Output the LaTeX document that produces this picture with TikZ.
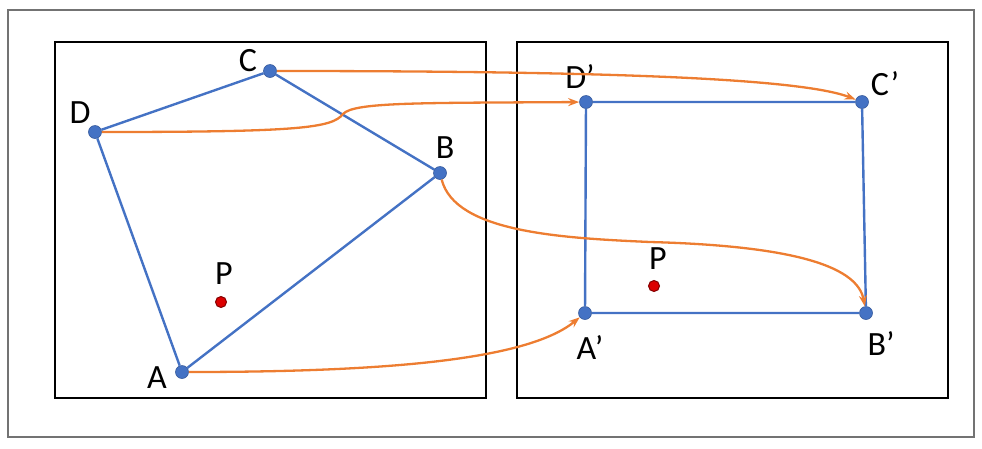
\documentclass[tikz,border=0pt]{standalone}
\usepackage{fontspec}
\setmainfont{Carlito}
\usepackage{xcolor}
\usetikzlibrary{arrows.meta}
\definecolor{ptblue}{RGB}{68,114,196}
\definecolor{ptorange}{RGB}{237,125,49}
\definecolor{ptred}{RGB}{220,0,0}
\tikzset{
    vdot/.style={circle, fill=ptblue, draw=ptblue!80!black, line width=0.6pt, minimum size=13pt, inner sep=0pt},
    pdot/.style={circle, fill=ptred, draw=ptred!60!black, line width=1pt, minimum size=11pt, inner sep=0pt},
    lbl/.style={inner sep=0pt, font=\fontsize{34}{40}\selectfont},
    edge/.style={ptblue, line width=2.4pt},
    maparrow/.style={ptorange, line width=2.3pt, -{Stealth[length=11pt, width=8pt]}}
}

\begin{document}
\begin{tikzpicture}[x=1pt, y=-1pt]
    \useasboundingbox (0,0) rectangle (982,448);
    \draw[gray!90!black, line width=1.2pt] (8,10) rectangle (974,437);

    % Before
    \draw[line width=2.2pt] (55,42) rectangle (486,398);
    \node[vdot] (A) at (182,372) {};
    \node[vdot] (B) at (440,173) {};
    \node[vdot] (C) at (270,71) {};
    \node[vdot] (D) at (95,132) {};
    \draw[edge] (A) -- (B) -- (C) -- (D) -- (A);
    \node[pdot] (P) at (221,302) {};
    \node[lbl] (lA) at (157,378) {A};
    \node[lbl] (lB) at (445,148) {B};
    \node[lbl] (lC) at (248,61) {C};
    \node[lbl] (lD) at (80,113) {D};
    \node[lbl] (lP) at (224,274) {P};

    % After
    \draw[line width=2.2pt] (517,42) rectangle (948,398);
    \node[vdot] (A2) at (585,313) {};
    \node[vdot] (B2) at (866,313) {};
    \node[vdot] (C2) at (862,102) {};
    \node[vdot] (D2) at (586,102) {};
    \draw[edge] (A2) -- (B2) -- (C2) -- (D2) -- (A2);
    \node[pdot] (P2) at (654,286) {};
    \node[lbl] (lA2) at (590,348) {A’};
    \node[lbl] (lB2) at (881,344) {B’};
    \node[lbl] (lC2) at (885,84) {C’};
    \node[lbl] (lD2) at (580,77) {D’};
    \node[lbl] (lP2) at (658,259) {P};

    % Mapping
    \coordinate (kink) at (343,114);
    \coordinate (dip) at (650,242);
    \draw[maparrow] (C) .. controls (600,71) and (800,78) .. (C2);
    \draw[maparrow] (D) .. controls (300,132) and (332,128) .. (kink)
        .. controls (354,102) and (420,103) .. (D2);
    \draw[maparrow] (B) .. controls (455,232) and (560,238) .. (dip)
        .. controls (800,246) and (858,268) .. (B2);
    \draw[maparrow] (A) .. controls (400,372) and (530,358) .. (A2);
\end{tikzpicture}
\end{document}
